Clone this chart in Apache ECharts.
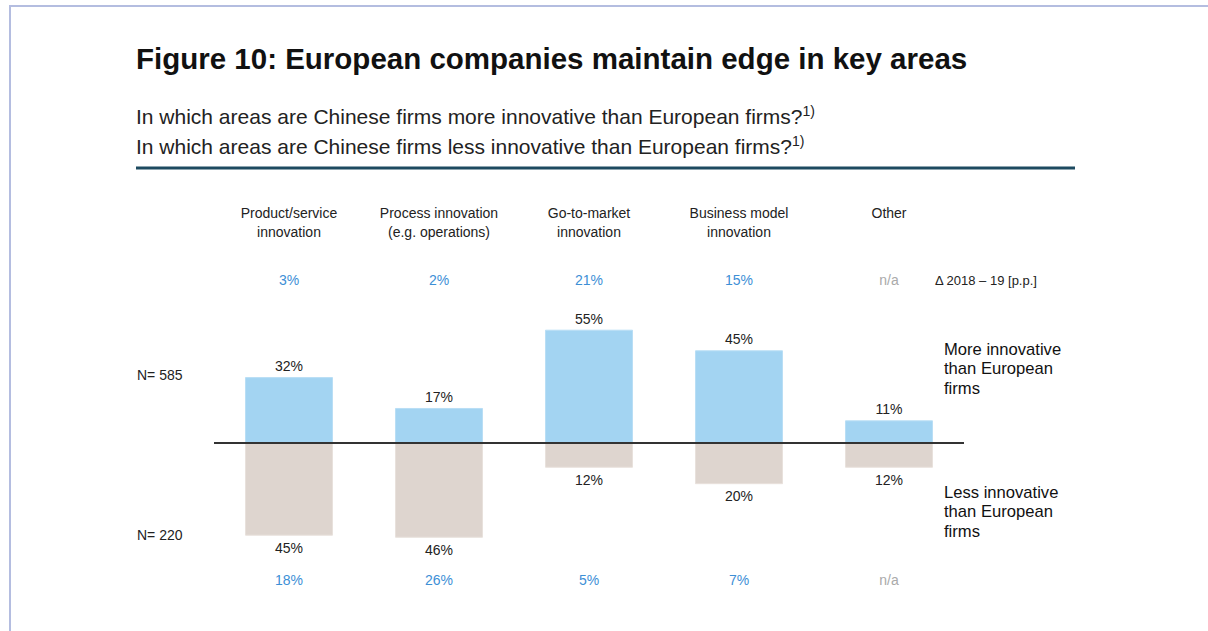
<!DOCTYPE html>
<html>
<head>
<meta charset="utf-8">
<script src="https://cdn.jsdelivr.net/npm/echarts@6/dist/echarts.min.js"></script>
<style>
  html, body { margin: 0; padding: 0; background: #ffffff; }
  #chart { width: 1208px; height: 631px; }
</style>
</head>
<body>
<div id="chart"></div>
<script>
// Survey categories and shares of respondents (%)
const categories = [
  'Product/service\ninnovation',
  'Process innovation\n(e.g. operations)',
  'Go-to-market\ninnovation',
  'Business model\ninnovation',
  'Other'
];
const moreInnovative = [32, 17, 55, 45, 11];
const lessInnovative = [45, 46, 12, 20, 12];
// Change versus previous survey, percentage points
const deltaMore = ['3%', '2%', '21%', '15%', 'n/a'];
const deltaLess = ['18%', '26%', '5%', '7%', 'n/a'];

const LABEL_FONT = '"Liberation Sans", Arial, sans-serif';
const BODY_FONT = '"Liberation Sans", Arial, sans-serif';
const TEXT = '#222222';
const BLUE_TEXT = '#3d8fd6';
const GREY_TEXT = '#aaaaaa';

const deltaRich = {
  num: { color: BLUE_TEXT, fontSize: 14, fontFamily: LABEL_FONT },
  na: { color: GREY_TEXT, fontSize: 14, fontFamily: LABEL_FONT }
};
const deltaFormatter = (list) => (value, idx) =>
  list[idx] === 'n/a' ? '{na|n/a}' : '{num|' + list[idx] + '}';

const supStyle = { fontFamily: BODY_FONT, fontSize: 14, color: '#222222', verticalAlign: 'top', lineHeight: 14 };

const chart = echarts.init(document.getElementById('chart'), null, { renderer: 'svg' });

chart.setOption({
  backgroundColor: '#ffffff',
  animation: false,
  title: [
    {
      text: 'Figure 10: European companies maintain edge in key areas',
      left: 131, top: 38,
      textStyle: { fontFamily: BODY_FONT, fontSize: 29.5, fontWeight: 'bold', color: '#111111' }
    },
    {
      text: 'In which areas are Chinese firms more innovative than European firms?{sup|1)}',
      left: 131, top: 99,
      textStyle: {
        fontFamily: BODY_FONT, fontSize: 21, fontWeight: 'normal', color: '#222222', lineHeight: 24,
        rich: { sup: supStyle }
      }
    },
    {
      text: 'In which areas are Chinese firms less innovative than European firms?{sup|1)}',
      left: 131, top: 129,
      textStyle: {
        fontFamily: BODY_FONT, fontSize: 21, fontWeight: 'normal', color: '#222222', lineHeight: 24,
        rich: { sup: supStyle }
      }
    }
  ],
  grid: { left: 214, width: 750, top: 319.4, height: 247.2, containLabel: false },
  xAxis: [
    {
      // bottom row: change of the "less innovative" shares
      type: 'category', data: categories, position: 'bottom', gridIndex: 0,
      axisLine: { show: false }, axisTick: { show: false },
      axisLabel: { margin: 5, lineHeight: 16, formatter: deltaFormatter(deltaLess), rich: deltaRich }
    },
    {
      // top row: change of the "more innovative" shares
      type: 'category', data: categories, position: 'top', offset: 23, gridIndex: 0,
      axisLine: { show: false }, axisTick: { show: false },
      axisLabel: { margin: 8, lineHeight: 16, formatter: deltaFormatter(deltaMore), rich: deltaRich }
    },
    {
      // category headings
      type: 'category', data: categories, position: 'top', offset: 108, gridIndex: 0,
      axisLine: { show: false }, axisTick: { show: false },
      axisLabel: {
        margin: 8, verticalAlign: 'top', lineHeight: 19, interval: 0,
        fontFamily: LABEL_FONT, fontSize: 14, color: TEXT
      }
    }
  ],
  yAxis: {
    type: 'value', min: -60, max: 60, show: false
  },
  series: [
    {
      name: 'More innovative than European firms',
      type: 'bar', xAxisIndex: 0, barWidth: 88, barGap: '-100%',
      data: moreInnovative,
      itemStyle: { color: '#a3d4f2', borderColor: '#b9def5', borderWidth: 1 },
      label: {
        show: true, position: 'top', distance: 4,
        fontFamily: LABEL_FONT, fontSize: 14, color: TEXT,
        formatter: (p) => p.value + '%'
      },
      markLine: {
        silent: true, symbol: 'none', label: { show: false },
        lineStyle: { color: '#333333', width: 2, type: 'solid' },
        data: [{ yAxis: 0 }]
      },
      z: 2
    },
    {
      name: 'Less innovative than European firms',
      type: 'bar', xAxisIndex: 0, barWidth: 88, barGap: '-100%',
      data: lessInnovative.map((v) => -v),
      itemStyle: { color: '#ded5cf', borderColor: '#e8e1dc', borderWidth: 1 },
      label: {
        show: true, position: 'bottom', distance: 5,
        fontFamily: LABEL_FONT, fontSize: 14, color: TEXT,
        formatter: (p) => Math.abs(p.value) + '%'
      },
      z: 1
    }
  ],
  graphic: [
    // page frame
    { type: 'rect', silent: true, shape: { x: 9, y: 5, width: 1199, height: 2 }, style: { fill: '#b4bde0' } },
    { type: 'rect', silent: true, shape: { x: 9, y: 5, width: 2, height: 626 }, style: { fill: '#b4bde0' } },
    // rule under the questions
    { type: 'rect', silent: true, shape: { x: 136, y: 166.5, width: 939, height: 3 }, style: { fill: '#1d4a60' } },
    {
      type: 'text', silent: true, x: 935, y: 280,
      style: { text: '\u0394 2018 \u2013 19 [p.p.]', font: '13px ' + LABEL_FONT, fill: TEXT, verticalAlign: 'middle' }
    },
    {
      type: 'text', silent: true, x: 137, y: 375,
      style: { text: 'N= 585', font: '14px ' + LABEL_FONT, fill: TEXT, verticalAlign: 'middle' }
    },
    {
      type: 'text', silent: true, x: 137, y: 535,
      style: { text: 'N= 220', font: '14px ' + LABEL_FONT, fill: TEXT, verticalAlign: 'middle' }
    },
    {
      type: 'text', silent: true, x: 944, y: 339.5,
      style: { text: 'More innovative\nthan European\nfirms', font: '16.6px ' + BODY_FONT, lineHeight: 19.5, fill: '#111111', verticalAlign: 'top' }
    },
    {
      type: 'text', silent: true, x: 944, y: 482.5,
      style: { text: 'Less innovative\nthan European\nfirms', font: '16.6px ' + BODY_FONT, lineHeight: 19.5, fill: '#111111', verticalAlign: 'top' }
    }
  ]
});
</script>
</body>
</html>
